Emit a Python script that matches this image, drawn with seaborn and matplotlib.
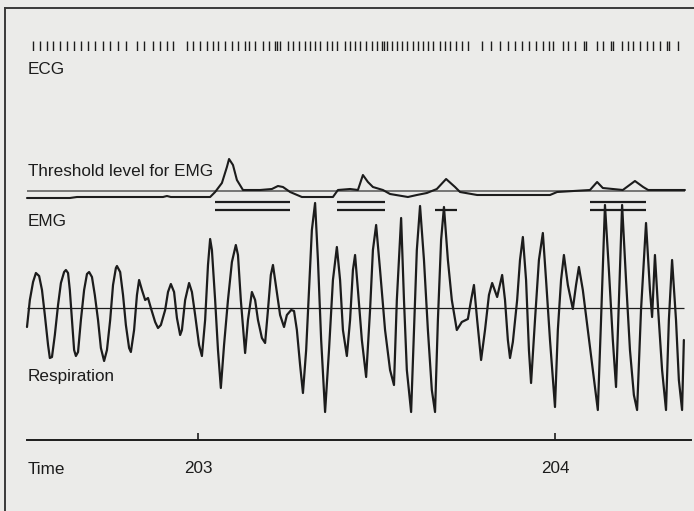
import numpy as np
import pandas as pd
import seaborn as sns
import matplotlib.pyplot as plt

# ---------------- data (time in s, amplitudes in arbitrary units) ----------------
resp_t = [202.521, 202.529, 202.538, 202.546, 202.555, 202.563, 202.571, 202.580, 202.585, 202.591,
          202.599, 202.608, 202.616, 202.625, 202.630, 202.636, 202.641, 202.647, 202.653, 202.658,
          202.664, 202.672, 202.681, 202.689, 202.695, 202.703, 202.711, 202.720, 202.728, 202.737,
          202.745, 202.754, 202.762, 202.770, 202.773, 202.782, 202.790, 202.798, 202.807, 202.812,
          202.821, 202.829, 202.835, 202.843, 202.852, 202.860, 202.868, 202.880, 202.888, 202.896,
          202.908, 202.916, 202.924, 202.933, 202.941, 202.950, 202.955, 202.964, 202.975, 202.983,
          202.992, 203.003, 203.011, 203.020, 203.028, 203.034, 203.039, 203.048, 203.056, 203.064,
          203.073, 203.084, 203.095, 203.106, 203.112, 203.120, 203.132, 203.140, 203.151, 203.160,
          203.168, 203.179, 203.188, 203.196, 203.204, 203.210, 203.218, 203.230, 203.241, 203.249,
          203.261, 203.269, 203.277, 203.286, 203.294, 203.303, 203.311, 203.319, 203.328, 203.336,
          203.345, 203.356, 203.367, 203.378, 203.389, 203.398, 203.406, 203.417, 203.426, 203.434,
          203.440, 203.448, 203.459, 203.471, 203.482, 203.490, 203.499, 203.510, 203.524, 203.538,
          203.549, 203.557, 203.569, 203.577, 203.585, 203.597, 203.605, 203.613, 203.622, 203.633,
          203.644, 203.655, 203.664, 203.672, 203.681, 203.689, 203.700, 203.711, 203.725, 203.739,
          203.756, 203.765, 203.773, 203.782, 203.793, 203.804, 203.815, 203.824, 203.838, 203.852,
          203.860, 203.868, 203.874, 203.882, 203.894, 203.902, 203.910, 203.919, 203.927, 203.933,
          203.944, 203.955, 203.966, 203.975, 203.986, 204.000, 204.008, 204.017, 204.025, 204.036,
          204.050, 204.059, 204.067, 204.078, 204.092, 204.106, 204.120, 204.129, 204.140, 204.151,
          204.162, 204.171, 204.179, 204.188, 204.199, 204.210, 204.221, 204.230, 204.241, 204.255,
          204.266, 204.272, 204.280, 204.289, 204.300, 204.311, 204.319, 204.328, 204.339, 204.347,
          204.356, 204.361]
resp_v = [-19, 8, 26, 35, 32, 18, -7, -37, -50, -49,
          -27, 3, 25, 36, 38, 35, 18, -12, -42, -48,
          -44, -12, 18, 34, 36, 31, 13, -12, -40, -53,
          -42, -12, 23, 40, 42, 36, 13, -17, -40, -44,
          -22, 13, 28, 18, 8, 10, 0, -14, -20, -17,
          -2, 16, 24, 16, -10, -27, -22, 8, 25, 16,
          -7, -37, -48, -12, 43, 69, 58, 8, -42, -80,
          -37, 8, 46, 63, 53, 8, -45, -12, 16, 8,
          -12, -30, -35, -2, 33, 43, 23, -7, -19, -7,
          -2, -3, -22, -57, -85, -42, 18, 78, 105, 48,
          -32, -104, -42, 28, 61, 28, -22, -48, -12, 38,
          53, 18, -32, -69, -2, 58, 83, 38, -22, -62,
          -77, 8, 90, 8, -62, -104, -22, 58, 102, 48,
          -22, -82, -104, -12, 68, 101, 48, 8, -22, -14,
          -11, 8, 23, -12, -52, -22, 13, 25, 11, 33,
          8, -32, -50, -34, 8, 48, 71, 28, -42, -75,
          -12, 48, 75, 28, -32, -99, -22, 28, 53, 23,
          -1, 23, 41, 18, -22, -62, -102, -12, 103, 38,
          -32, -79, 8, 103, 28, -42, -87, -102, -2, 85,
          18, -9, 53, -2, -62, -102, -12, 48, -12, -72,
          -102, -32]

emg_t = [202.521, 202.641, 202.661, 202.689, 202.902, 202.913, 202.924, 203.034, 203.048, 203.067,
         203.081, 203.087, 203.098, 203.109, 203.126, 203.174, 203.207, 203.224, 203.238, 203.258,
         203.291, 203.378, 203.392, 203.426, 203.448, 203.462, 203.476, 203.490, 203.518, 203.538,
         203.588, 203.613, 203.641, 203.669, 203.695, 203.720, 203.734, 203.782, 203.986, 204.006,
         204.098, 204.118, 204.134, 204.190, 204.224, 204.247, 204.261, 204.364]
emg_v = [0, 0, 1, 1, 1, 2, 1, 1, 6, 15,
         31, 39, 33, 18, 8, 8, 9, 12, 11, 6,
         1, 1, 8, 9, 8, 23, 16, 11, 8, 4,
         1, 3, 5, 9, 19, 11, 6, 3, 3, 6,
         8, 16, 10, 8, 17, 11, 8, 8]
emg_threshold = 7

burst_start = [203.048, 203.389, 203.664, 204.098]
burst_end = [203.258, 203.524, 203.725, 204.255]
burst_lines = [2, 2, 1, 2]

ecg_t = [202.538, 202.557, 202.577, 202.594, 202.613, 202.633, 202.653, 202.672, 202.692, 202.711,
         202.734, 202.754, 202.776, 202.798, 202.829, 202.849, 202.874, 202.894, 202.913, 202.930,
         202.969, 202.986, 203.006, 203.025, 203.042, 203.056, 203.076, 203.095, 203.112, 203.132,
         203.143, 203.160, 203.182, 203.199, 203.216, 203.221, 203.230, 203.252, 203.266, 203.283,
         203.300, 203.314, 203.328, 203.342, 203.361, 203.375, 203.389, 203.412, 203.426, 203.440,
         203.454, 203.471, 203.487, 203.501, 203.515, 203.521, 203.529, 203.543, 203.557, 203.571,
         203.585, 203.602, 203.616, 203.630, 203.644, 203.658, 203.678, 203.692, 203.706, 203.723,
         203.739, 203.756, 203.796, 203.821, 203.846, 203.868, 203.888, 203.908, 203.927, 203.947,
         203.966, 203.983, 203.994, 204.022, 204.036, 204.056, 204.081, 204.087, 204.118, 204.134,
         204.157, 204.162, 204.188, 204.204, 204.218, 204.238, 204.258, 204.275, 204.294, 204.314,
         204.319, 204.345]

time_ticks = [203, 204]
time_labels = ["203", "204"]

# ---------------- style / layout ----------------
sns.set_theme(style="white")
plt.rcParams["font.family"] = ["Liberation Sans", "DejaVu Sans"]
BG = "#ebebe9"
INK = "#1c1c1c"
FS = 12.3
W, H = 694, 511
XLIM = (202.4594, 204.3894)

RESP_Y = 203     # vertical offset of respiration trace
EMG_Y = 313      # vertical offset of EMG trace
BAR_OFFSETS = [-3.5, -12]
AXIS_Y = 71

fig = plt.figure(figsize=(W / 100, H / 100), dpi=100, facecolor=BG)
ax = fig.add_axes([5 / W, 0, 689 / W, 503 / H], facecolor=BG)
ax.set_xlim(*XLIM)
ax.set_ylim(0, 503)

# respiration
df_resp = pd.DataFrame({"t": resp_t, "v": RESP_Y + np.array(resp_v)})
sns.lineplot(data=df_resp, x="t", y="v", ax=ax, sort=False, estimator=None,
             color=INK, lw=1.6)
ax.hlines(RESP_Y, resp_t[0], resp_t[-1], color=INK, lw=0.9)

# EMG and threshold
ax.hlines(EMG_Y + emg_threshold, emg_t[0], emg_t[-1], color="#555555", lw=1.1)
df_emg = pd.DataFrame({"t": emg_t, "v": EMG_Y + np.array(emg_v)})
sns.lineplot(data=df_emg, x="t", y="v", ax=ax, sort=False, estimator=None,
             color=INK, lw=1.5)

# detected bursts
for s, e, n in zip(burst_start, burst_end, burst_lines):
    offs = BAR_OFFSETS if n == 2 else BAR_OFFSETS[1:]
    for o in offs:
        ax.hlines(EMG_Y + o, s, e, color=INK, lw=1.6)

# frame and time axis
ax.spines["right"].set_visible(False)
for side in ["left", "top"]:
    ax.spines[side].set_color("#3a3a3a")
    ax.spines[side].set_linewidth(1.4)
ax.spines["bottom"].set_position(("data", AXIS_Y))
ax.spines["bottom"].set_bounds(202.5210, 204.3810)
ax.spines["bottom"].set_color(INK)
ax.spines["bottom"].set_linewidth(1.4)
ax.set_xticks(time_ticks)
ax.set_xticklabels(time_labels)
ax.tick_params(axis="x", direction="in", length=5, width=1.2, pad=15,
               labelsize=FS, colors=INK, bottom=True)
ax.set_yticks([])
ax.set_xlabel("")
ax.set_ylabel("")

# ECG
ax_ecg = fig.add_axes([5 / W, (H - 51) / H, 689 / W, 10 / H])
ax_ecg.set_xlim(*XLIM)
sns.rugplot(x=ecg_t, ax=ax_ecg, height=1.0, lw=1.8, color=INK, expand_margins=False)
ax_ecg.set_ylim(0, 1)
ax_ecg.axis("off")

# labels
def label(x, y, s):
    fig.text(x / W, 1 - y / H, s, fontsize=FS, color=INK, ha="left", va="center")

label(28, 70, "ECG")
label(28, 171, "Threshold level for EMG")
label(28, 222, "EMG")
label(28, 376, "Respiration")
label(28, 470, "Time")

fig.savefig("out.png", dpi=100, facecolor=BG)
